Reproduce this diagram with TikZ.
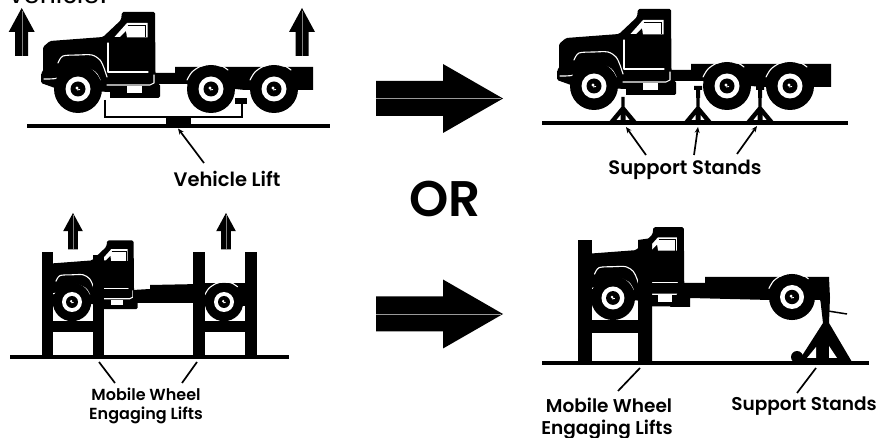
\documentclass[tikz,border=0pt]{standalone}
\usepackage{fontspec}
\setmainfont{Poppins}[BoldFont={Poppins SemiBold}]
\newfontfamily\arialish{Liberation Sans}
\usetikzlibrary{arrows.meta}
\tikzset{
  gap/.style={draw=white,line width=1.1pt,line cap=round,line join=round},
  lab/.style={anchor=base,inner sep=0pt,align=center,font=\bfseries\fontsize{#1}{#1}\selectfont},
  ground/.style={line width=3.6pt,black},
  pointer/.style={line width=1.7pt,-{Stealth[length=6pt,width=5pt]}},
  plainptr/.style={line width=1.7pt},
  cabin/.pic={
    \fill[black,rounded corners=1.5pt] (122,12)--(155,12)--(155.5,73)--(156,84)--(160,84)--(160,98)--(108,98)--(108,92)--(55,88)--(41,83)--(41,73)--(43,72)--(43,47)--(50,41)--(103,37)--(121,20)--cycle;
    \fill[white] (114.5,37)--(127,23)--(147.5,23)--(147.5,37.5)--(127,37.5)--(126,31)--(120,37)--cycle;
    \draw[black,line width=.7pt] (127.5,25.5)--(145.5,25.5)--(145.5,37.5);
    \draw[gap] (108,43)--(108,72)--(148,72);
    \draw[gap] plot[smooth] coordinates {(58,63)(63,56)(78,55)(92,55)(100,60)(104,68)(107,77)};
    \draw[gap] (107,85)--(150,85)--(154,83)--(154,75);
    \fill[white] (127,86)--(142,86)--(142,93)--(127,93)--cycle;
    \fill[white] (105,92)--(110,92)--(110,99)--(105,99)--cycle;
    \draw[gap] plot[smooth] coordinates {(44,79)(58,78)(68,70)(82,67)(95,72)(100,80)};
  },
  wheelset/.pic={
    \fill[black] (0,0) circle[radius=24];
    \fill[white] (0,0) circle[radius=12.5];
    \fill[black] (0,0) circle[radius=7.5];
    \fill[white] (-1,-1) circle[radius=1.6];
    \draw[draw=white,line width=.9pt] (-1,1) -- (2,.5);
  },
  fender/.pic={
    \draw[gap] plot[smooth] coordinates {(-24,-9)(-19,-17)(-10,-23)(0,-25.5)(10,-23.5)(17,-19)};
  },
  arrowup/.pic={
    \fill[black] (0,0)--(13,24)--(6.5,24)--(6.5,48)--(-6.5,48)--(-6.5,24)--(-13,24)--cycle;
    \draw[gray,line width=.4pt] (0,3)--(0,48);
  },
  bigarrow/.pic={
    \fill[black] (0,-17.5)--(67,-17.5)--(67,-34.5)--(127,0)--(67,34.5)--(67,17.5)--(0,17.5)--cycle;
    \draw[gray!80,line width=.5pt] (0,0)--(125,0);
  },
  jack/.pic={
    \fill[black] (-1.7,-26)--(1.7,-26)--(1.7,-16)--(15,0)--(-15,0)--(-1.7,-16)--cycle;
    \fill[white] (-2.5,-3)--(-2.5,-8)--(-6.5,-3)--cycle;
    \fill[white] (2.5,-3)--(2.5,-8)--(6.5,-3)--cycle;
  },
  tallhead/.pic={
    \fill[black] (-4,0)--(4,0)--(4,4)--(2,4)--(2,12)--(-2,12)--(-2,4)--(-4,4)--cycle;
  }
}
\begin{document}
\begin{tikzpicture}[x=1pt,y=-1pt]
\useasboundingbox (0,0) rectangle (876,438);
\clip (0,0) rectangle (876,438);

\node[anchor=base west,inner sep=0pt,font=\arialish\fontsize{29}{29}\selectfont] (head) at (9,4) {vehicle.};

% ---------- top left ----------
\pic at (0,0) {cabin};
\fill[black] (155,73)--(175,73)--(175,67)--(313,67)--(313,90)--(245,90)--(187,84)--(155,84)--cycle;
\pic at (78,89) {wheelset};
\pic at (211,89) {wheelset};
\pic at (274,89) {wheelset};
\pic at (211,89) {fender};
\pic at (274,89) {fender};
\draw[black,line width=2pt] (105,100)--(105,117.5)--(242,117.5)--(242,103);
\fill[black] (235,98)--(247,98)--(247,104)--(235,104)--cycle;
\fill[black] (166,117)--(191,117)--(191,126)--(166,126)--cycle;
\draw[ground] (27,126)--(330,126);
\pic at (21.7,8) {arrowup};
\pic at (302,8) {arrowup};
\node[lab=19.5] (vl) at (227,187) {Vehicle Lift};
\coordinate (vlA) at (204,163);
\coordinate (vlB) at (178,128.5);
\draw[pointer] (vlA)--(vlB);

% ---------- top right ----------
\pic at (516,-3) {cabin};
\begin{scope}[shift={(516,-3)}]
\fill[black] (155,73)--(175,73)--(175,67)--(315,67)--(315,90)--(245,90)--(187,84)--(155,84)--cycle;
\pic at (78,89) {wheelset};
\pic at (211,89) {wheelset};
\pic at (274,89) {wheelset};
\pic at (211,89) {fender};
\pic at (274,89) {fender};
\end{scope}
\pic at (623,123) {jack};
\pic at (698,123) {jack};
\pic at (760,123) {jack};
\pic at (698,86) {tallhead};
\pic at (760,86) {tallhead};
\draw[ground] (542,123)--(848,123);
\node[lab=19.5] (ss1) at (685,175) {Support Stands};
\coordinate (s1a) at (646,155); \coordinate (s1b) at (626,127);
\coordinate (s2a) at (694,155); \coordinate (s2b) at (698,127);
\coordinate (s3a) at (737,154); \coordinate (s3b) at (757,126);
\draw[pointer] (s1a)--(s1b);
\draw[pointer] (s2a)--(s2b);
\draw[pointer] (s3a)--(s3b);

% ---------- centre ----------
\pic at (376,98.5) {bigarrow};
\pic at (376,314) {bigarrow};
\node[lab=50] (or) at (445,217) {OR};

% ---------- bottom left ----------
\begin{scope}[shift={(9.6,230.8)},scale=.8,transform shape]
\pic at (0,0) {cabin};
\pic at (78,89) {wheelset};
\end{scope}
\fill[black] (133,290)--(150,289)--(150,285)--(250,283)--(250,303)--(135,303)--(133,303)--cycle;
\fill[black] (205,283)--(245,283)--(245,306)--(205,306)--cycle;
\begin{scope}[shift={(224,302)},scale=.8,transform shape]
\pic at (0,0) {wheelset};
\pic at (0,0) {fender};
\end{scope}
\fill[black] (42,252)--(53,252)--(53,357)--(42,357)--cycle;
\fill[black] (93,255)--(104,255)--(104,357)--(93,357)--cycle;
\fill[black] (53,321)--(93,321)--(93,332)--(53,332)--cycle;
\fill[black] (193,252)--(205,252)--(205,357)--(193,357)--cycle;
\fill[black] (245,252)--(257,252)--(257,357)--(245,357)--cycle;
\fill[black] (205,321)--(245,321)--(245,332)--(205,332)--cycle;
\draw[ground] (10,357)--(289,357);
\begin{scope}[shift={(73,213)},scale=.76,transform shape]
\pic at (0,0) {arrowup};
\end{scope}
\begin{scope}[shift={(226,213)},scale=.76,transform shape]
\pic at (0,0) {arrowup};
\end{scope}
\node[lab=16] (mw1) at (146,401) {Mobile Wheel};
\node[lab=16] (el1) at (146,420) {Engaging Lifts};
\coordinate (m1a) at (115,383); \coordinate (m1b) at (99,362);
\coordinate (m2a) at (182,383); \coordinate (m2b) at (197,362);
\draw[plainptr] (m1a)--(m1b);
\draw[plainptr] (m2a)--(m2b);

% ---------- bottom right ----------
\begin{scope}[shift={(541.2,216.1)},scale=.92,transform shape]
\pic at (0,0) {cabin};
\pic at (78,89) {wheelset};
\end{scope}
\fill[black] (683,283)--(705,283)--(705,277)--(829,277)--(830,298)--(828,312)--(820,300)--(770,300)--(690,298)--(690,307)--(670,307)--cycle;
\begin{scope}[shift={(792,297)},scale=.96,transform shape]
\pic at (0,0) {wheelset};
\pic at (0,0) {fender};
\end{scope}
\fill[black] (820,297)--(830,297)--(829,323)--(852,362)--(798,362)--(823,323)--cycle;
\fill[white] (807,358)--(816,347)--(816,358)--cycle;
\fill[white] (829,346)--(829,358)--(837,358)--cycle;
\fill[black] (797,357) circle[radius=6];
\draw[black,line width=1.5pt] (828,311)--(847,314);
\fill[black] (578,240)--(592,240)--(592,363)--(578,363)--cycle;
\fill[black] (638,240)--(652,238)--(652,363)--(638,363)--cycle;
\fill[black] (592,320)--(638,320)--(638,333)--(592,333)--cycle;
\draw[ground] (542,363)--(869,363);
\node[lab=18.5] (mw2) at (609,413) {Mobile Wheel};
\node[lab=18.5] (el2) at (607,434) {Engaging Lifts};
\node[lab=18.5] (ss2) at (804,410) {Support Stands};
\coordinate (n1a) at (618,391); \coordinate (n1b) at (640,368);
\coordinate (n2a) at (797,393); \coordinate (n2b) at (816,368);
\draw[plainptr] (n1a)--(n1b);
\draw[plainptr] (n2a)--(n2b);
\end{tikzpicture}
\end{document}
